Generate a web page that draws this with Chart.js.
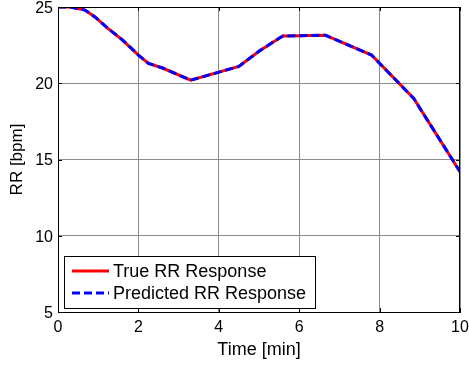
<!DOCTYPE html>
<html>
<head>
<meta charset="utf-8">
<script src="https://cdn.jsdelivr.net/npm/chart.js@4/dist/chart.umd.min.js"></script>
<style>
  html, body { margin: 0; padding: 0; background: #fff; }
  #wrap { width: 469px; height: 368px; }
</style>
</head>
<body>
<div id="wrap"><canvas id="rrChart"></canvas></div>
<script>
// datos
const timeMin = [0, 0.3, 0.67, 0.92, 1.24, 1.6, 2.0, 2.25, 2.6, 3.3, 4.5, 5.0, 5.5, 5.6, 6.65, 7.8, 8.85, 10];
const trueRR = [25, 25, 24.8, 24.35, 23.6, 22.85, 21.85, 21.3, 21.0, 20.2, 21.1, 22.1, 22.95, 23.1, 23.15, 21.85, 19.0, 14.2];
const predictedRR = [25, 25, 24.8, 24.35, 23.6, 22.85, 21.85, 21.3, 21.0, 20.2, 21.1, 22.1, 22.95, 23.1, 23.15, 21.85, 19.0, 14.2];
const xTicks = [0, 2, 4, 6, 8, 10];
const yTicks = [5, 10, 15, 20, 25];
const seriesNames = ['True RR Response', 'Predicted RR Response'];

const fontName = "'Liberation Sans', Arial, sans-serif";
const gridColor = 'rgb(140, 140, 140)';

const toPoints = (xs, ys) => xs.map((x, i) => ({ x: x, y: ys[i] }));

// sin padding extra por las etiquetas de los extremos
const noEdgePad = s => {
    s.paddingTop = 0; s.paddingBottom = 0;
    s.paddingLeft = 0; s.paddingRight = 0;
};

// marco, ticks interiores y leyenda estilo MATLAB
const matlabBox = {
    id: 'matlabBox',
    afterDraw(chart) {
        const ctx = chart.ctx;
        const a = chart.chartArea;
        const xs = chart.scales.x, ys = chart.scales.y;
        ctx.save();
        ctx.strokeStyle = '#000';
        ctx.lineWidth = 1;
        ctx.strokeRect(a.left + 0.5, a.top + 0.5, a.right - a.left - 1, a.bottom - a.top);
        ctx.beginPath();
        xTicks.forEach(v => {
            const px = Math.round(xs.getPixelForValue(v)) + 0.5;
            ctx.moveTo(px, a.bottom); ctx.lineTo(px, a.bottom - 4);
            ctx.moveTo(px, a.top); ctx.lineTo(px, a.top + 4);
        });
        yTicks.forEach(v => {
            const py = Math.round(ys.getPixelForValue(v)) + 0.5;
            ctx.moveTo(a.left, py); ctx.lineTo(a.left + 4, py);
            ctx.moveTo(a.right, py); ctx.lineTo(a.right - 4, py);
        });
        ctx.stroke();

        // leyenda
        const bx = 64.5, by = 256.5, bw = 251, bh = 52;
        ctx.fillStyle = '#fff';
        ctx.fillRect(bx, by, bw, bh);
        ctx.strokeRect(bx, by, bw, bh);
        ctx.font = '18px ' + fontName;
        ctx.textBaseline = 'middle';
        ctx.textAlign = 'left';
        chart.data.datasets.forEach((ds, i) => {
            const yy = 271 + i * 22;
            ctx.strokeStyle = ds.borderColor;
            ctx.lineWidth = 3;
            ctx.setLineDash(ds.borderDash || []);
            ctx.beginPath();
            ctx.moveTo(72, yy); ctx.lineTo(109, yy);
            ctx.stroke();
            ctx.setLineDash([]);
            ctx.fillStyle = '#000';
            ctx.fillText(ds.label, 113, yy + 1);
        });
        ctx.restore();
    }
};

new Chart(document.getElementById('rrChart'), {
    type: 'line',
    data: {
        datasets: [{
            label: seriesNames[0],
            data: toPoints(timeMin, trueRR),
            borderColor: '#ff0000',
            borderWidth: 3,
            pointRadius: 0,
            tension: 0,
            order: 2
        }, {
            label: seriesNames[1],
            data: toPoints(timeMin, predictedRR),
            borderColor: '#0000ff',
            borderWidth: 3,
            borderDash: [8, 4],
            pointRadius: 0,
            tension: 0,
            order: 1
        }]
    },
    options: {
        responsive: true,
        maintainAspectRatio: false,
        animation: false,
        layout: { padding: { top: 7, right: 9, left: 0, bottom: 0 } },
        plugins: {
            legend: { display: false },
            tooltip: { enabled: false }
        },
        scales: {
            x: {
                type: 'linear',
                min: 0, max: 10,
                afterBuildTicks: s => { s.ticks = xTicks.map(v => ({ value: v })); },
                afterFit: s => { s.height = 56; noEdgePad(s); },
                grid: { color: gridColor, drawTicks: false },
                border: { color: '#000' },
                ticks: { color: '#000', font: { family: fontName, size: 16 }, padding: 6, maxRotation: 0 },
                title: { display: true, text: 'Time [min]', color: '#000', font: { family: fontName, size: 18 }, padding: { bottom: 7 } }
            },
            y: {
                min: 5, max: 25,
                afterBuildTicks: s => { s.ticks = yTicks.map(v => ({ value: v })); },
                afterFit: s => { s.width = 58; noEdgePad(s); },
                grid: { color: gridColor, drawTicks: false },
                border: { color: '#000' },
                ticks: { color: '#000', font: { family: fontName, size: 16 }, padding: 5, labelOffset: 1.5 },
                title: { display: true, text: 'RR [bpm]', color: '#000', font: { family: fontName, size: 17 }, padding: { top: 7 } }
            }
        }
    },
    plugins: [matlabBox]
});
</script>
</body>
</html>
